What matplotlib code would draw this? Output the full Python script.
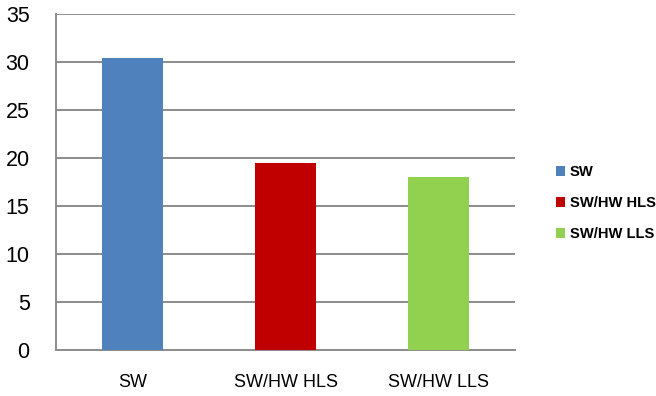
import matplotlib.pyplot as plt
from matplotlib.patches import Patch

# ── Data ─────────────────────────────────────────────────────────────
categories = ["SW", "SW/HW HLS", "SW/HW LLS"]
values = [30.4, 19.5, 18.0]
colors = ["#4F81BD", "#C00000", "#92D050"]
yticks = [0, 5, 10, 15, 20, 25, 30, 35]

plt.rcParams["font.family"] = ["Liberation Sans", "DejaVu Sans"]

W, H = 656, 396
fig = plt.figure(figsize=(W / 100, H / 100), dpi=100)
ax = fig.add_axes([56 / W, (H - 350) / H, (515 - 56) / W, (350 - 14) / H])

x = range(len(categories))
ax.bar(x, values, width=0.405, color=colors, zorder=3)

ax.set_xlim(-0.5, len(categories) - 0.5)
ax.set_ylim(0, 35)
ax.set_yticks(yticks)
ax.set_xticks(list(x))
ax.set_xticklabels(categories, fontsize=13)
ax.tick_params(axis="y", length=0, pad=19, labelsize=15.5)
ax.tick_params(axis="x", length=0, pad=17)

ax.grid(axis="y", color="#8c8c8c", linewidth=1.4, zorder=0)
ax.set_axisbelow(True)
for side in ["top", "right"]:
    ax.spines[side].set_visible(False)
ax.spines["left"].set_color("#8c8c8c")
ax.spines["left"].set_linewidth(1.4)
ax.spines["bottom"].set_color("#8c8c8c")
ax.spines["bottom"].set_linewidth(1.4)

handles = [Patch(facecolor=c, edgecolor="none") for c in colors]
leg = fig.legend(handles, categories, loc="upper left",
                 bbox_to_anchor=(549 / W, 1 - 158 / H), frameon=False,
                 prop={"weight": "bold", "size": 10.6},
                 handlelength=0.6, handleheight=0.6, handletextpad=0.3,
                 labelspacing=1.15, borderpad=0)

fig.savefig("out.png", dpi=100)
